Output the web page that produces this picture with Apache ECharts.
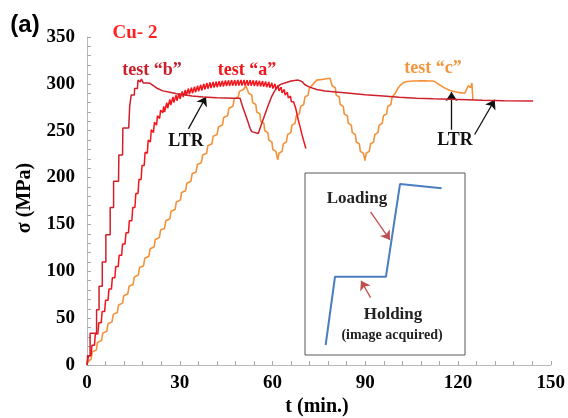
<!DOCTYPE html>
<html>
<head>
<meta charset="utf-8">
<script src="https://cdn.jsdelivr.net/npm/echarts@6/dist/echarts.min.js"></script>
<style>html,body{margin:0;padding:0;background:#fff}#c{width:568px;height:418px}</style>
</head>
<body>
<div id="c"></div>
<script>
// ---- axis ticks ----
const xTicks = [0, 30, 60, 90, 120, 150];
const yTicks = [0, 50, 100, 150, 200, 250, 300, 350];

// ---- test "b" (fast stepwise loading, LTR hold, unload/reload, long LTR) ----
const testB = [
  [0,0],[0.2,10],[1.0,10],[1.0,34],[3.1,34],[3.1,59],[3.9,59],[3.9,84],[4.95,84],[4.95,110],
  [6.1,110],[6.1,139],[7.5,139],[7.5,168],[8.6,168],[8.6,196],[10.2,196],[10.3,224],[11.5,224],
  [11.6,253],[13.5,253],[13.8,276],[14.2,276],[14.3,288],[15.3,288],[15.4,295],[16.3,295],
  [16.5,304],[17.2,302],[17.6,305],[18.2,301],[18.8,303],[19.5,301],[20.4,300.6],[22.5,295.6],
  [24.5,292.5],[26.8,291],[29,289.5],[31.1,288.5],[34,287],[37.6,286],[42,285.3],[47.3,284.6],
  [49.5,284.6],[50.3,276],[50.8,276],[51.5,265],[52.0,265],[52.8,252],[53.3,249],[55.4,247],
  [56.0,253],[56.5,253],[57.2,264],[57.7,264],[58.5,276],[59.0,276],[59.8,287],[60.3,287],
  [60.8,293],[61.5,296],[62.4,299],[64,301],[66,303],[68.3,304],[69.5,302.5],[70.5,299],
  [72,296.5],[74.3,294],[77,292.5],[79.6,291.7],[85,290],[90,288.5],[95.8,287],[101,285.6],
  [106.6,284.6],[112,284],[117.4,283.5],[123,283],[128,282.4],[135,282],[144.3,281.7]
];

// ---- test "a" (stepwise loading with relaxation serrations) ----
const testA = [
  [0,0],[0.5,10],[1.3,10],[1.6,21],[2.4,21],[2.7,33],[3.5,33],[3.8,45],[4.6,45],[4.9,57],
  [5.7,57],[6.0,69],[6.8,69],[7.1,81],[7.9,81],[8.2,93],[9.0,93],[9.3,105],[10.1,105],[10.4,117],
  [11.2,117],[11.5,129],[12.3,129],[12.6,141],[13.4,141],[13.7,154],[14.5,154],[14.8,168],
  [15.5,168],[15.8,183],[16.5,183],[16.8,198],[17.5,198],[17.8,213],[18.5,213],[18.8,227],
  [19.5,226],[19.8,240],[20.5,238],[20.8,251],[21.5,248],[21.8,259],[22.5,256],[22.8,266],
  [23.5,263],[23.8,272],[24.5,269],
  [24.8,276],[25.1,270],[25.8,280],[26.1,274],[26.8,283.5],[27.1,277.5],[27.8,286],[28.1,280],
  [28.8,288],[29.1,282],[29.8,290],[30.1,284],[30.8,292],[31.1,286],[31.8,293.5],[32.1,287.5],
  [32.8,295],[33.1,289],[33.8,296],[34.1,290],[34.8,297],[35.1,291],[35.8,298],[36.1,292],
  [36.8,299],[37.1,293],[37.8,300],[38.1,294],[38.8,300.8],[39.1,294.8],[39.8,301.5],[40.1,295.5],
  [40.8,302],[41.1,296],[41.8,302.5],[42.1,296.5],[42.8,303],[43.1,297],[43.8,303.3],[44.1,297.3],
  [44.8,303.6],[45.1,297.6],[45.8,303.8],[46.1,297.8],[46.8,304],[47.1,298],[47.8,304],[48.1,298],
  [48.8,304.2],[49.1,298.2],[49.8,304.2],[50.1,298.2],[50.8,304.2],[51.1,298.2],[51.8,304],[52.1,298],
  [52.8,304],[53.1,298],[53.8,303.8],[54.1,297.8],[54.8,303.6],[55.1,297.6],[55.8,303.3],[56.1,297.3],
  [56.8,303],[57.1,297],[57.8,302.5],[58.1,296.5],[58.8,302],[59.1,296],[59.8,301],[60.1,295],
  [60.8,300],[61.1,294],[61.8,298.5],[62.1,292.5],[62.8,296.5],[63.1,290.5],[63.8,294],[64.1,288],
  [64.8,291],[65.1,285],[65.8,287],[66.1,281],[66.8,281],[67.5,274],[68.3,262],[69.0,253],
  [69.6,245],[70.2,238],[70.8,231]
];

// ---- test "c" (cyclic loading/unloading, hold, LTR) ----
const testC = [
  [0,0],[0.4,4],[1.3,6],[1.7,14],[3.0,16],[3.4,24],[4.7,26],[5.1,34],[6.4,36],[6.8,44],
  [8.1,46],[8.5,54],[9.8,56],[10.2,64],[11.5,66],[11.9,74],[13.2,76],[13.6,84],[14.9,86],[15.3,94],
  [16.6,96],[17.0,104],[18.3,106],[18.7,114],[20.0,116],[20.4,124],[21.7,126],[22.1,134],[23.4,136],
  [23.8,144],[25.1,146],[25.5,154],[26.8,156],[27.2,164],[28.5,166],[28.9,174],[30.2,176],[30.6,184],
  [31.9,186],[32.3,194],[33.6,196],[34.0,204],[35.3,206],[35.7,214],[37.0,216],[37.4,224],[38.7,226],
  [39.1,234],[40.4,236],[40.8,244],[42.1,246],[42.5,254],[43.8,256],[44.2,264],[45.5,266],[45.9,274],
  [47.2,276],[47.6,284],[48.9,286],[49.3,292],[50.6,294],[51.4,298],
  [52.3,290],[53.3,288],[53.6,280],[54.6,278],[54.9,270],[55.9,268],[56.2,260],[57.2,258],[57.5,250],
  [58.5,248],[58.8,240],[59.8,238],[60.1,230],[61.1,228],[61.7,219],
  [62.1,226],[63.1,228],[63.5,236],[64.5,238],[64.9,246],[65.9,248],[66.3,256],[67.3,258],[67.7,266],
  [68.7,268],[69.1,276],[70.1,278],[70.5,286],[71.5,288],[71.9,295],[73.2,300],
  [74.3,304],[75.5,304.5],[76.5,305],[77.5,305.5],[78.6,306],
  [79.3,298],[80.3,296],[80.6,288],[81.6,286],[81.9,278],[82.9,276],[83.2,268],[84.2,266],[84.5,258],
  [85.5,256],[85.8,248],[86.8,246],[87.1,238],[88.1,236],[88.4,228],[89.4,226],[89.9,218],
  [90.3,226],[91.3,228],[91.7,236],[92.7,238],[93.1,246],[94.1,248],[94.5,256],[95.5,258],[95.9,266],
  [96.9,268],[97.3,276],[98.3,278],[98.7,286],[99.7,290],[100.5,295],[101.5,299],[102.5,301.5],
  [103.5,302.5],[104,301.5],[104.5,302.8],[105,301.8],[105.5,303],[106,302],[106.5,303],[107,302],
  [107.5,303.2],[108,302.2],[108.5,303.2],[109,302.2],[109.5,303.2],[110,302.2],[110.5,303],[111,302],
  [111.5,303],[112,302],[112.5,302.5],
  [113.3,300.5],[114,299],[115.5,296],[117.4,293],[119,291.5],[120.6,290.6],[122.2,290],
  [122.8,292],[123.3,298],[123.7,300],[124.1,296],[124.5,301],[124.8,283]
];

// ---- LTR annotation arrows: [tail, head] in (t, sigma) ----
const ltrArrows = [
  [[32.8,252],[38.5,286.3]],
  [[117.9,251],[117.9,291.2]],
  [[125.4,246],[131.9,283]]
];

// ---- inset schematic (normalised 0..100 units) ----
const insetPath = [[12.9,5.5],[18.75,43],[50.6,43],[59.4,94],[85.4,91.6]];
const insetArrows = [
  [[41,78.7],[53.1,63.2]],
  [[41,31.5],[35,40.8]]
];

const serif = "'Liberation Serif','Times New Roman',serif";
const chart = echarts.init(document.getElementById('c'), null, {renderer:'canvas'});

function arrowLines(list, color, width) {
  return {
    silent: true, animation: false,
    symbol: ['none','arrow'], symbolSize: 9,
    label: {show:false},
    lineStyle: {color: color, width: width, type: 'solid'},
    itemStyle: {color: color},
    emphasis: {disabled: true},
    data: list.map(a => [{coord: a[0], symbol: 'none'}, {coord: a[1], symbol: 'arrow'}])
  };
}

function txt(s, x, y, size, color, extra) {
  return Object.assign({
    type: 'text', x: x, y: y, silent: true, z: 100,
    style: {text: s, fill: color, font: 'bold ' + size + 'px ' + serif, align: 'center', verticalAlign: 'middle'}
  }, extra || {});
}

const axisCommon = {
  axisLine: {show: true, lineStyle: {color: '#b8b8b8', width: 1}},
  axisTick: {show: true, inside: true, length: 4, lineStyle: {color: '#a8a8a8'}},
  minorTick: {show: true, splitNumber: 5, length: 4, lineStyle: {color: '#a8a8a8'}},
  splitLine: {show: false},
  axisLabel: {color: '#000', fontFamily: serif, fontWeight: 'bold', fontSize: 19}
};

chart.setOption({
  animation: false,
  backgroundColor: '#fff',
  grid: [
    {left: 87, right: 17, top: 37, bottom: 53, containLabel: false},
    {left: 305, top: 173, width: 160, height: 182, show: true, borderColor: '#595959', borderWidth: 1, backgroundColor: '#fff', z: 5}
  ],
  xAxis: [
    Object.assign({}, axisCommon, {
      type: 'value', gridIndex: 0, min: 0, max: 150, interval: 30,
      axisLabel: Object.assign({}, axisCommon.axisLabel, {margin: 9,
        formatter: v => xTicks.indexOf(v) >= 0 ? String(v) : ''})
    }),
    {type: 'value', gridIndex: 1, min: 0, max: 100, show: false}
  ],
  yAxis: [
    Object.assign({}, axisCommon, {
      type: 'value', gridIndex: 0, min: 0, max: 350, interval: 50,
      axisLabel: Object.assign({}, axisCommon.axisLabel, {margin: 12,
        formatter: v => yTicks.indexOf(v) >= 0 ? String(v) : ''})
    }),
    {type: 'value', gridIndex: 1, min: 0, max: 100, show: false}
  ],
  series: [
    {name: 'test c', type: 'line', data: testC, showSymbol: false, z: 3,
     lineStyle: {color: '#f4923a', width: 1.6}, itemStyle: {color: '#f4923a'}},
    {name: 'test a', type: 'line', data: testA, showSymbol: false, z: 4,
     lineStyle: {color: '#f4141c', width: 1.5}, itemStyle: {color: '#f4141c'}},
    {name: 'test b', type: 'line', data: testB, showSymbol: false, z: 5,
     lineStyle: {color: '#cf1f2b', width: 1.5}, itemStyle: {color: '#cf1f2b'},
     markLine: arrowLines(ltrArrows, '#111', 1.3)},
    {name: 'inset', type: 'line', xAxisIndex: 1, yAxisIndex: 1, data: insetPath, showSymbol: false, z: 6,
     lineStyle: {color: '#4a7ebf', width: 2}, itemStyle: {color: '#4a7ebf'},
     markLine: arrowLines(insetArrows, '#c0504d', 1.3)}
  ],
  graphic: [
    {type: 'text', x: 25, y: 25, silent: true, z: 100,
     style: {text: '(a)', fill: '#000', font: "bold 24px 'Liberation Sans',Arial,sans-serif", align: 'center', verticalAlign: 'middle'}},
    txt('Cu- 2', 135, 33, 19, '#ff2020'),
    txt('test \u201cb\u201d', 152, 70, 18, '#c8202c'),
    txt('test \u201ca\u201d', 247, 70, 18, '#f0161c'),
    txt('test \u201cc\u201d', 433, 68, 18, '#f4963e'),
    txt('LTR', 186, 141, 18, '#111'),
    txt('LTR', 455, 140, 18, '#111'),
    txt('Loading', 357, 199, 17, '#222'),
    txt('Holding', 393, 315, 17, '#222'),
    txt('(image acquired)', 392, 335, 14, '#222'),
    txt('t (min.)', 317, 407, 20, '#000'),
    txt('\u03c3 (MPa)', 25, 198, 20, '#000', {rotation: Math.PI / 2})
  ]
});
</script>
</body>
</html>
